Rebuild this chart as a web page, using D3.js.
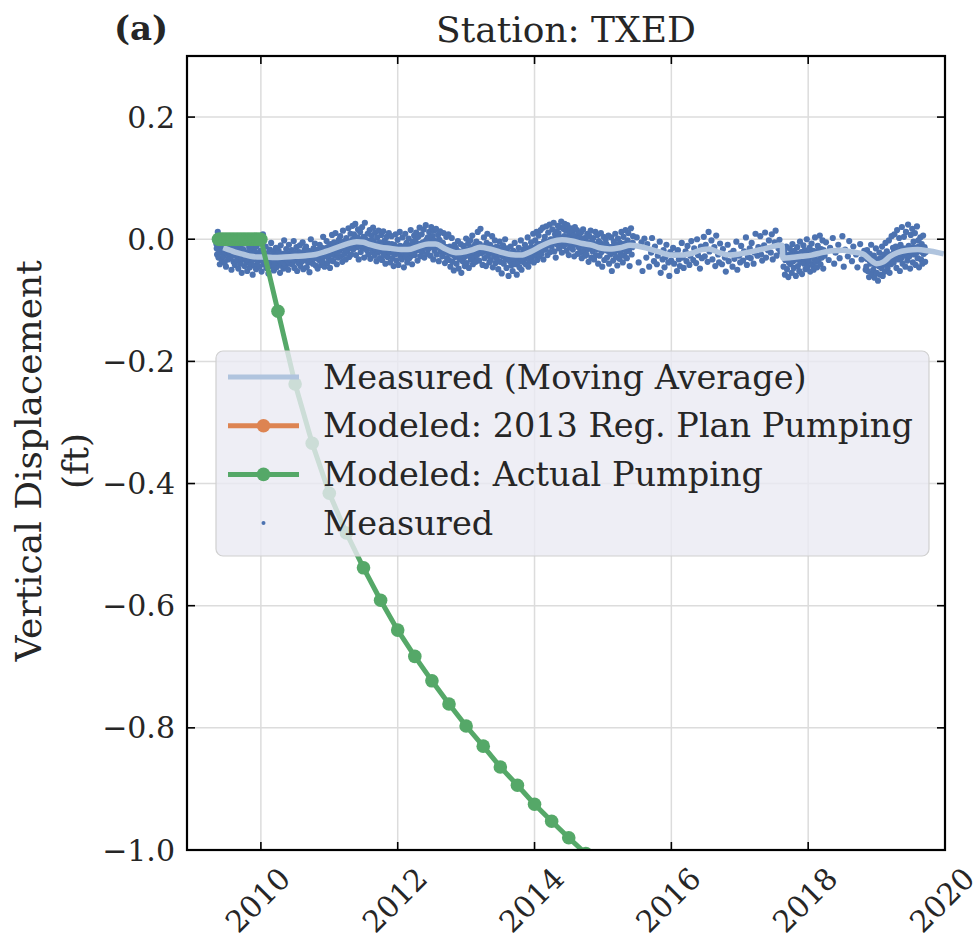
<!DOCTYPE html>
<html>
<head>
<meta charset="utf-8">
<title>Station: TXED</title>
<script src="https://d3js.org/d3.v7.min.js"></script>
<style>
	body { margin: 0; background: #fff; }
	svg { font-family: "DejaVu Serif", serif; }
	.grid line { stroke: #dcdcdc; stroke-width: 1.5; }
	.ticklabel { font-size: 30px; fill: #262626; }
</style>
</head>
<body>
<script>

// --------------------------- data --------------------------------
// tick values
var xTickYears = [2010, 2012, 2014, 2016, 2018, 2020];
var yTickValues = [0.2, 0.0, -0.2, -0.4, -0.6, -0.8, -1.0];

var legendLabels = ["Measured (Moving Average)", "Modeled: 2013 Reg. Plan Pumping",
	"Modeled: Actual Pumping", "Measured"];

// measured points (thousandths of a foot), kept as runs of regular samples
// null = no sample that day
var runStart = [2009.35, 2015.48, 2017.64, 2018.26, 2018.85, 2009.355, 2017.645, 2018.855];
var runStep  = [0.01, 0.014, 0.01, 0.02, 0.01, 0.02, 0.02, 0.02];

var run0 = [
	-8, -25, 12, -30, -18, -41, -5, -22, -35, -15,
	-28, -2, -38, -19, -45, -10, -24, -33, -6, -29,
	-31, -14, -50, -22, -9, -37, -26, -42, -17, -3,
	-35, -20, -48, -12, -29, -40, -27, -55, -16, -33,
	-18, -44, -31, -7, -38, -52, -24, -36, -13, -46,
	-40, -21, -33, -58, -26, -15, -43, -30, -49, -11,
	-37, -4, -28, -45, -19, -34, -53, -24, 8, -41,
	-22, -39, -12, -47, -31, -25, -56, -35, -17, -44,
	-6, -33, -42, -20, -51, -28, -37, -14, -46, -30,
	-38, -19, -27, -55, -10, -43, -32, -24, -48, -2,
	-30, -45, -16, -36, -23, -50, -9, -40, -27, -34,
	-18, -41, -29, -3, -47, -25, -35, -13, -52, -31,
	-39, -21, -10, -44, -28, -36, -5, -49, -24, -17,
	-33, -12, -46, -26, -38, -19, -54, -29, 0, -35,
	-22, -40, -15, -31, -7, -43, -27, -18, -48, -25,
	-34, -9, -28, -42, -14, -37, 4, -23, -45, -17,
	-26, -3, -39, -13, -31, -21, -47, -8, -35, 7,
	-22, -36, -5, -27, 10, -18, -41, -11, -30, -1,
	-19, 5, -28, -8, -37, 14, -15, -24, -3, -33,
	2, -20, -12, 18, -29, -5, 9, -25, -14, 22,
	-17, 8, -9, 25, -26, 1, -13, 16, -33, -2,
	12, -21, -6, 20, -15, 4, -30, 27, -10, -1,
	-18, 9, -25, -4, 15, -32, -12, 6, -21, 19,
	-3, -27, 11, -16, -36, 3, -22, 14, -9, -31,
	-20, 7, -34, -11, 13, -26, -2, -40, -15, 4,
	-29, -7, 10, -22, -38, -13, 5, -31, -18, -44,
	-9, -25, 8, -35, -17, -1, -42, -21, 12, -28,
	-12, -33, 3, -24, -46, -15, 9, -29, -6, -38,
	-22, 1, -31, -10, 15, -27, -41, -4, -19, 6,
	-26, -2, 11, -18, -35, 4, -12, 19, -28, -7,
	8, -21, -5, 16, -30, -13, 23, -1, -24, 3,
	-16, 12, -3, -27, 20, -9, 5, -33, 14, -19,
	-4, 17, -25, -11, 7, -36, -1, 13, -20, -8,
	-28, -6, 10, -22, -39, -13, 4, -31, -17, 8,
	-34, -12, -45, -24, 2, -37, -18, -51, -9, -29,
	-14, -40, -27, -3, -48, -21, -33, -8, -55, -25,
	-36, -11, -30, -44, -16, 1, -39, -24, -7, -47,
	-25, -2, -33, -14, 6, -41, -20, -29, -9, -37,
	-4, -26, 12, -19, -35, -8, 17, -23, -13, -42,
	-21, 3, -31, -11, -44, -6, 9, -27, -17, -38,
	-9, -34, -22, 5, -46, -15, -28, -2, -39, -19,
	-32, -13, -49, -25, -4, -37, -18, -56, -28, -10,
	-40, -20, 0, -33, -47, -15, -29, -60, -24, -36,
	-12, -43, -27, -52, -19, -35, -6, -41, -30, -58,
	-23, -38, -14, -46, -31, -2, -50, -26, -37, -17,
	-33, -9, -41, -20, -28, 3, -45, -15, -36, -24,
	-5, -30, -16, 9, -38, -21, -2, -27, 12, -34,
	-19, 6, -28, -8, 15, -24, -13, 19, -33, -3,
	4, -17, 21, -10, -26, 11, -4, 24, -21, 0,
	-12, 16, -2, 27, -20, 8, -30, 13, -7, 22,
	10, -15, 20, -6, 29, -22, 3, 17, -11, 25,
	-8, 14, -19, 23, 1, -26, 9, -13, 18, -4,
	12, -17, 6, -28, 20, -9, -1, 15, -24, 8,
	-14, 3, -22, 11, -31, -5, 16, -19, 2, -27,
	-2, -25, 9, -16, -37, 5, -12, 14, -30, -6,
	-20, 2, -33, -9, 12, -26, -15, 7, -40, -3,
	-27, -6, 10, -21, -45, -11, 4, -34, -17, -1,
	-8, -30, -19, 6, -40, -13, -25, 3, -52, -22,
	-35, -4, -21, 9, -29, -12, -43, 1, -18, -32,
	-6, -24, 12, -16, -38, 4, -27, -10, 15, -20,
	-31, -2, 10, -19, -44, -8, 18, -25, -13, 5
];

var run1 = [
	null, 3, null, -38, null, null, -5, -52, null, 1,
	null, -30, -8, null, -45, null, -22, 2, null, -36,
	-12, null, -41, -27, null, -4, -55, null, -33, -18,
	-46, -29, -9, null, -38, -60, -21, -35, null, -14,
	-40, -25, null, -52, -18, -33, -44, null, -6, -30,
	-47, null, -20, -36, -11, null, -42, -27, -3, null,
	-34, -15, null, -39, 0, -26, null, -48, -12, -31,
	null, 4, -28, -9, null, -37, 12, -20, null, -2,
	-33, null, -13, -44, 6, null, -25, -38, -7, null,
	-41, -16, null, -30, -53, null, -9, -36, null, -23,
	null, -45, -19, -32, null, -4, -50, null, -27, -38,
	-11, null, -35, -20, null, 3, -42, -29, null, -15,
	-31, -6, null, -40, -22, 9, null, -27, -13, null,
	5, -25, -35, null, -10, 11, -30, null, -18, -2,
	null, -22, 8, -33, null, -5, 14, -27, null, -15,
	-1, -20
];

var run2 = [
	-45, -20, -58, -33, -12, -49, -27, -62, -38, -15,
	-41, -24, -55, -8, -36, -47, -19, -30, -60, -26,
	-13, -44, -33, -52, -4, -38, -21, -57, -29, -10,
	-40, -18, -49, -31, 0, -45, -24, -36, -14, -53,
	-28, -7, -42, -19, -50, -33, 3, -37, -22, -46,
	-11, -35, -26, 6, -41, -16, -30, -2, -48, -20,
	-27
];

var run3 = [
	-5, null, -34, -14, null, 2, -40, -22, null, -9,
	-31, null, 5, -45, -17, null, -28, -3, null, -36,
	-12, null, -25, -46, null, -8, -33, null, -19, -50
];

var run4 = [
	-45, -18, -52, -30, -62, -24, -40, -9, -56, -35,
	-50, -27, -63, -41, -15, -55, -33, -68, -44, -22,
	-58, -31, -47, -12, -60, -39, -25, -53, -6, -42,
	-20, -48, -33, -2, -55, -27, -41, 5, -36, -14,
	-38, 8, -29, -12, -47, 15, -22, -33, 2, -52,
	-9, -31, 20, -40, -16, 4, -27, -45, 12, -20,
	-35, 24, -11, -28, -48, 7, -21, 17, -38, -4,
	-25, 10, -42, -14, 21, -31, -2, -46, -19, 3,
	-33, -8, -40, 6, -24, -13, -37, -21
];

// in-between days, the points that lie close to the running mean
var run5 = [
	-15, -9, -20, -12, -17, -11, -21, -14, -19, -8,
	-24, -16, -27, -13, -21, -19, -28, -22, -31, -17,
	-30, -22, -33, -25, -20, -24, -34, -29, -21, -32,
	-35, -26, -31, -23, -37, -27, -33, -24, -36, -29,
	-34, -25, -38, -28, -32, -23, -35, -30, -26, -39,
	-31, -24, -36, -27, -33, -25, -34, -22, -31, -28,
	-32, -23, -29, -35, -21, -20, -30, -26, -33, -24,
	-29, -21, -27, -18, -31, -17, -26, -20, -29, -15,
	-23, -14, -21, -12, -25, -11, -19, -13, -22, -9,
	-15, -7, -13, -4, -17, -3, -12, -6, -14, -1,
	-9, 0, -7, 3, -11, -1, -10, -3, 2, -8,
	-12, -4, -10, -2, -14, -7, -15, -9, -18, -5,
	-17, -9, -15, -20, -11, -12, -19, -14, -8, -21,
	-20, -13, -18, -23, -11, -14, -21, -16, -10, -24,
	-19, -12, -22, -15, -9, -10, -17, -8, -15, -19,
	-13, -6, -11, -3, -15, -4, -11, -7, -13, -2,
	-14, -6, -12, -4, -9, -10, -18, -13, -20, -16,
	-23, -15, -21, -26, -17, -18, -26, -20, -28, -24,
	-25, -17, -23, -19, -27, -15, -22, -13, -20, -17,
	-11, -18, -9, -16, -13, -19, -12, -17, -10, -20,
	-14, -21, -18, -24, -13, -23, -16, -25, -19, -22,
	-19, -27, -21, -29, -25, -28, -22, -31, -24, -27,
	-23, -30, -25, -32, -21, -26, -18, -24, -20, -27,
	-13, -21, -15, -19, -11, -16, -8, -14, -10, -17,
	-3, -11, -5, -9, -1, -8, 0, -6, 2, -9,
	3, -5, 1, -3, 5, -6, 2, -4, 1, -7,
	0, -8, -2, -6, 1, -10, -3, -9, -5, -12,
	-6, -13, -8, -11, -4, -14, -8, -12, -16, -9,
	-10, -17, -12, -15, -8, -18, -12, -16, -20, -13,
	-11, -17, -14, -9, -18, -15, -9, -13, -7, -16,
	-7, -13, -9, -12, -6
];

var run6 = [
	-28, -34, -26, -32, -30, -25, -35, -29, -27, -33,
	-24, -30, -28, -22, -31, -26, -29, -23, -27, -21,
	-25, -28, -20, -26, -23, -19, -25, -21, -24, -18
];

var run7 = [
	-32, -27, -35, -30, -38, -36, -42, -34, -40, -37,
	-39, -33, -41, -35, -31, -28, -34, -25, -31, -27,
	-20, -26, -18, -24, -21, -17, -23, -15, -21, -19,
	-14, -20, -16, -22, -13, -19, -15, -21, -12, -18,
	-16, -22, -14
];

var measuredRuns = [run0, run1, run2, run3, run4, run5, run6, run7];

// moving average of the measured points (thousandths of a foot)
var maYears = [2009.45, 2009.55, 2009.65, 2009.75, 2009.85, 2009.95, 2010.05, 2010.2, 2010.35, 2010.5,
	2010.65, 2010.8, 2010.95, 2011.1, 2011.25, 2011.4, 2011.5, 2011.6, 2011.75, 2011.9,
	2012.05, 2012.15, 2012.3, 2012.45, 2012.55, 2012.7, 2012.85, 2013.0, 2013.1, 2013.2,
	2013.35, 2013.5, 2013.65, 2013.8, 2013.95, 2014.1, 2014.25, 2014.4, 2014.55, 2014.7,
	2014.85, 2014.95, 2015.1, 2015.25, 2015.4, 2015.5, 2015.65, 2015.8, 2016.0, 2016.15,
	2016.3, 2016.45, 2016.55, 2016.7, 2016.85, 2017.0, 2017.15, 2017.3, 2017.45, 2017.58,
	2017.62, 2017.63, 2017.75, 2017.9, 2018.05, 2018.2, 2018.35, 2018.5, 2018.65, 2018.8,
	2018.9, 2019.0, 2019.1, 2019.2, 2019.3, 2019.45, 2019.6, 2019.75, 2019.9, 2019.98];
var maValues = [-14, -18, -22, -25, -28, -29, -29, -30, -29, -28,
	-27, -25, -20, -14, -8, -4, -5, -9, -13, -15,
	-17, -17, -12, -8, -8, -16, -22, -20, -17, -13,
	-16, -21, -25, -26, -20, -11, -4, -1, -3, -7,
	-10, -14, -16, -14, -10, -11, -15, -20, -26, -26,
	-23, -17, -16, -22, -26, -24, -21, -17, -13, -10,
	-10, -31, -30, -28, -26, -22, -19, -18, -21, -24,
	-33, -40, -37, -28, -22, -18, -17, -19, -22, -24];

// modeled displacement, actual pumping (ft): weekly at zero until 2010, then quarterly
var modelYears = [2009.38, 2009.40, 2009.42, 2009.44, 2009.46, 2009.48, 2009.50, 2009.52, 2009.54, 2009.56,
	2009.58, 2009.60, 2009.62, 2009.64, 2009.66, 2009.68, 2009.70, 2009.72, 2009.74, 2009.76,
	2009.78, 2009.80, 2009.82, 2009.84, 2009.86, 2009.88, 2009.90, 2009.92, 2009.94, 2009.96,
	2009.98, 2010.0,
	2010.25, 2010.5, 2010.75, 2011.0, 2011.25, 2011.5, 2011.75, 2012.0, 2012.25, 2012.5,
	2012.75, 2013.0, 2013.25, 2013.5, 2013.75, 2014.0, 2014.25, 2014.5, 2014.75];
var modelValues = [0, 0, 0, 0, 0, 0, 0, 0, 0, 0,
	0, 0, 0, 0, 0, 0, 0, 0, 0, 0,
	0, 0, 0, 0, 0, 0, 0, 0, 0, 0,
	0, 0,
	-0.118, -0.237, -0.334, -0.416, -0.481, -0.538, -0.591, -0.640, -0.683, -0.723,
	-0.761, -0.797, -0.830, -0.864, -0.894, -0.925, -0.953, -0.980, -1.006];

// ----------------------------------------------------------------------

var svg = d3.select("body").append("svg")
	.attr("width", 976)
	.attr("height", 939);

// plot box
var boxLeft = 187, boxRight = 945, boxTop = 56, boxBottom = 850;

var xScale = d3.scaleLinear().domain([2008.92, 2020]).range([boxLeft, boxRight]);
var yScale = d3.scaleLinear().domain([-1.0, 0.3]).range([boxBottom, boxTop]);

svg.append("defs").append("clipPath").attr("id", "plotclip")
	.append("rect").attr("x", boxLeft).attr("y", boxTop)
	.attr("width", boxRight - boxLeft).attr("height", boxBottom - boxTop);

// grid
var grid = svg.append("g").attr("class", "grid");
grid.selectAll(".gx").data(xTickYears).enter().append("line")
	.attr("x1", function (d) { return xScale(d); }).attr("x2", function (d) { return xScale(d); })
	.attr("y1", boxTop).attr("y2", boxBottom);
grid.selectAll(".gy").data(yTickValues).enter().append("line")
	.attr("y1", function (d) { return yScale(d); }).attr("y2", function (d) { return yScale(d); })
	.attr("x1", boxLeft).attr("x2", boxRight);

var plotArea = svg.append("g").attr("clip-path", "url(#plotclip)");

// measured points
var measured = [];
measuredRuns.forEach(function (run, k) {
	run.forEach(function (v, i) {
		if (v !== null) measured.push({ t: runStart[k] + runStep[k] * i, v: v / 1000 });
	});
});

plotArea.append("g").selectAll("circle").data(measured).enter().append("circle")
	.attr("cx", function (d) { return xScale(d.t); })
	.attr("cy", function (d) { return yScale(d.v); })
	.attr("r", 3.1)
	.attr("fill", "#4c72b0");

// moving average
var maLine = d3.line()
	.x(function (d, i) { return xScale(maYears[i]); })
	.y(function (d) { return yScale(d / 1000); })
	.curve(d3.curveMonotoneX);
plotArea.append("path").datum(maValues)
	.attr("d", maLine)
	.attr("fill", "none")
	.attr("stroke", "#b0c4de")
	.attr("stroke-width", 5.5)
	.attr("stroke-linecap", "butt");

// modeled, actual pumping
var modelLine = d3.line()
	.x(function (d, i) { return xScale(modelYears[i]); })
	.y(function (d) { return yScale(d); });
plotArea.append("path").datum(modelValues)
	.attr("d", modelLine)
	.attr("fill", "none")
	.attr("stroke", "#55a868")
	.attr("stroke-width", 5);
plotArea.append("g").selectAll("circle").data(modelValues).enter().append("circle")
	.attr("cx", function (d, i) { return xScale(modelYears[i]); })
	.attr("cy", function (d) { return yScale(d); })
	.attr("r", 6.8)
	.attr("fill", "#55a868");

// legend
var legend = svg.append("g");
legend.append("rect")
	.attr("x", 216).attr("y", 351).attr("width", 713).attr("height", 205).attr("rx", 7)
	.attr("fill", "#eaeaf2").attr("fill-opacity", 0.8)
	.attr("stroke", "#d0d0d0").attr("stroke-width", 1.2);

var legendColors = ["#b0c4de", "#dd8452", "#55a868", "#4c72b0"];
legendLabels.forEach(function (label, i) {
	var ly = 377 + i * 48.7;
	if (i < 3) {
		legend.append("line").attr("x1", 228).attr("x2", 299).attr("y1", ly).attr("y2", ly)
			.attr("stroke", legendColors[i]).attr("stroke-width", 5);
	}
	if (i === 1 || i === 2) {
		legend.append("circle").attr("cx", 263.5).attr("cy", ly).attr("r", 6.8).attr("fill", legendColors[i]);
	}
	if (i === 3) {
		legend.append("circle").attr("cx", 263.5).attr("cy", ly).attr("r", 2).attr("fill", legendColors[i]);
	}
	legend.append("text").text(label)
		.attr("x", 323).attr("y", ly)
		.attr("dominant-baseline", "central")
		.attr("font-size", "33.5px").attr("fill", "#262626");
});

// frame and ticks (inward, all four sides)
var frame = svg.append("g");
frame.append("rect").attr("x", boxLeft).attr("y", boxTop)
	.attr("width", boxRight - boxLeft).attr("height", boxBottom - boxTop)
	.attr("fill", "none").attr("stroke", "#000").attr("stroke-width", 2.2);

xTickYears.forEach(function (yr) {
	var x = xScale(yr);
	frame.append("line").attr("x1", x).attr("x2", x).attr("y1", boxBottom).attr("y2", boxBottom - 8)
		.attr("stroke", "#000").attr("stroke-width", 1.6);
	frame.append("line").attr("x1", x).attr("x2", x).attr("y1", boxTop).attr("y2", boxTop + 8)
		.attr("stroke", "#000").attr("stroke-width", 1.6);
	svg.append("text").attr("class", "ticklabel").text(yr)
		.attr("text-anchor", "middle").attr("dominant-baseline", "central")
		.attr("font-size", "31px")
		.attr("transform", "translate(" + (x - 3) + ",900) rotate(-45)");
});

var yFormat = d3.format(".1f");
yTickValues.forEach(function (v) {
	var y = yScale(v);
	frame.append("line").attr("x1", boxLeft).attr("x2", boxLeft + 8).attr("y1", y).attr("y2", y)
		.attr("stroke", "#000").attr("stroke-width", 1.6);
	frame.append("line").attr("x1", boxRight).attr("x2", boxRight - 8).attr("y1", y).attr("y2", y)
		.attr("stroke", "#000").attr("stroke-width", 1.6);
	svg.append("text").attr("class", "ticklabel").text(yFormat(v))
		.attr("x", 175).attr("y", y)
		.attr("text-anchor", "end").attr("dominant-baseline", "central");
});

// titles
svg.append("text").text("Station: TXED")
	.attr("x", (boxLeft + boxRight) / 2).attr("y", 42)
	.attr("text-anchor", "middle").attr("font-size", "36px").attr("fill", "#262626");
svg.append("text").text("(a)")
	.attr("x", 114).attr("y", 40)
	.attr("font-size", "34px").attr("font-weight", "bold").attr("fill", "#262626");

var ylab = svg.append("text")
	.attr("transform", "translate(28,461) rotate(-90)")
	.attr("text-anchor", "middle").attr("font-size", "36px").attr("fill", "#262626");
ylab.append("tspan").attr("x", 0).attr("y", 0).attr("dominant-baseline", "central").text("Vertical Displacement");
ylab.append("tspan").attr("x", 0).attr("y", 47).attr("dominant-baseline", "central").text("(ft)");

</script>
</body>
</html>
